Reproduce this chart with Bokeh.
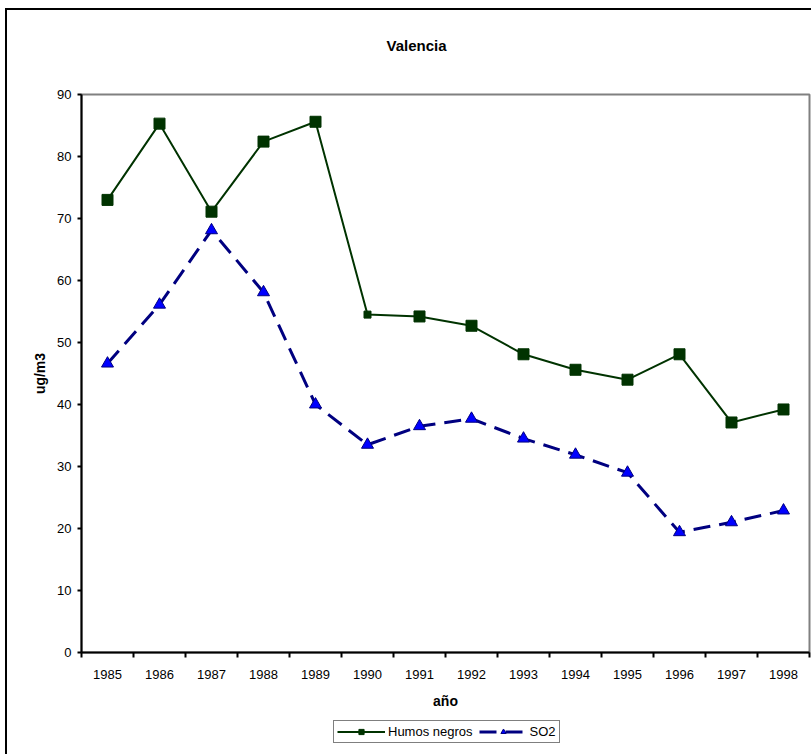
from bokeh.plotting import figure
from bokeh.layouts import column
from bokeh.models import Range1d, FixedTicker, Legend, LegendItem, Label
from bokeh.embed import file_html
from bokeh.resources import INLINE

# ---- data ----
years = ["1985", "1986", "1987", "1988", "1989", "1990", "1991",
         "1992", "1993", "1994", "1995", "1996", "1997", "1998"]
humos_negros = [73.0, 85.3, 71.1, 82.4, 85.6, 54.5, 54.2,
                52.7, 48.1, 45.6, 44.0, 48.1, 37.1, 39.2]
so2 = [46.6, 56.1, 68.1, 58.1, 40.0, 33.5, 36.5,
       37.7, 34.5, 31.9, 29.0, 19.4, 21.0, 22.9]
y_ticks = [0, 10, 20, 30, 40, 50, 60, 70, 80, 90]
title_text = "Valencia"

FONT = "Liberation Sans"
GREEN = "#003300"
NAVY = "#000080"
x = list(range(len(years)))


def bare_figure(h):
    f = figure(width=804, height=h, output_backend="svg", toolbar_location=None,
               x_range=Range1d(-0.5, len(years) - 0.5), y_range=Range1d(1000, 1001),
               x_axis_location=None, y_axis_location=None,
               min_border_left=0, min_border_right=0,
               min_border_top=0, min_border_bottom=0)
    f.outline_line_color = None
    f.xgrid.visible = False
    f.ygrid.visible = False
    f.background_fill_color = "white"
    f.border_fill_color = "white"
    return f


# ---- title strip ----
p0 = bare_figure(76)
p0.add_layout(Label(x=335, y=41, x_units="screen", y_units="screen",
                    text=title_text, text_align="center", text_baseline="middle",
                    text_font=FONT, text_font_size="15px", text_font_style="bold",
                    text_color="black"))

# ---- main chart ----
p = figure(width=804, height=634, output_backend="svg", toolbar_location=None,
           x_range=Range1d(-0.5, len(years) - 0.5),
           y_range=Range1d(y_ticks[0], y_ticks[-1]),
           min_border_left=74, min_border_right=2,
           min_border_top=8, min_border_bottom=68)

p.background_fill_color = "white"
p.border_fill_color = "white"
p.outline_line_color = "#808080"
p.outline_line_width = 2
p.xgrid.visible = False
p.ygrid.visible = False

xa = p.xaxis[0]
xa.ticker = FixedTicker(ticks=x, minor_ticks=[i - 0.5 for i in range(len(years) + 1)])
xa.major_label_overrides = {i: yr for i, yr in zip(x, years)}
xa.major_tick_out = 0
xa.major_tick_in = 0
xa.minor_tick_out = 5
xa.minor_tick_in = 0
xa.minor_tick_line_color = "black"
xa.minor_tick_line_width = 2
xa.axis_line_color = "black"
xa.axis_line_width = 2
xa.major_label_standoff = 12
xa.major_label_text_font = FONT
xa.major_label_text_font_size = "13px"
xa.major_label_text_color = "black"
xa.axis_label = "año"
xa.axis_label_text_font = FONT
xa.axis_label_text_font_size = "14px"
xa.axis_label_text_font_style = "bold"
xa.axis_label_text_color = "black"
xa.axis_label_standoff = 11

ya = p.yaxis[0]
ya.ticker = FixedTicker(ticks=y_ticks)
ya.major_tick_out = 4
ya.major_tick_in = 0
ya.major_tick_line_width = 2
ya.minor_tick_line_color = None
ya.axis_line_color = "black"
ya.axis_line_width = 2
ya.major_label_standoff = 6
ya.major_label_text_font = FONT
ya.major_label_text_font_size = "13px"
ya.major_label_text_color = "black"
ya.axis_label = "ug/m3"
ya.axis_label_text_font = FONT
ya.axis_label_text_font_size = "14px"
ya.axis_label_text_font_style = "bold"
ya.axis_label_text_color = "black"
ya.axis_label_standoff = 6

hn_sizes = [11] * len(years)
hn_sizes[5] = 7


def draw_series(fig):
    a = fig.line(x, humos_negros, line_color=GREEN, line_width=2)
    b = fig.scatter(x, humos_negros, marker="square", size=hn_sizes,
                    fill_color=GREEN, line_color=GREEN)
    c = fig.line(x, so2, line_color=NAVY, line_width=3, line_dash="17 9")
    d = fig.scatter(x, so2, marker="triangle", size=12,
                    fill_color="#0000ff", line_color=NAVY)
    return a, b, c, d


draw_series(p)

# ---- legend strip (series kept out of view, only the legend shows) ----
p2 = bare_figure(34)
l1, m1, l2, m2 = draw_series(p2)
legend = Legend(items=[LegendItem(label="Humos negros", renderers=[l1, m1]),
                       LegendItem(label="SO2", renderers=[l2, m2])],
                orientation="horizontal", location=(252, 11),
                border_line_color="black", border_line_width=1,
                background_fill_color="white",
                glyph_width=48, glyph_height=13,
                label_text_font=FONT, label_text_font_size="13px",
                label_text_color="black",
                label_height=13, padding=3, spacing=6, label_standoff=3,
                margin=0)
p2.add_layout(legend, "center")

page = column(p0, p, p2, spacing=0, margin=(8, 0, 0, 5),
              styles={"border-left": "2px solid black", "border-top": "2px solid black"})

open("out.html", "w").write(file_html(page, INLINE))
